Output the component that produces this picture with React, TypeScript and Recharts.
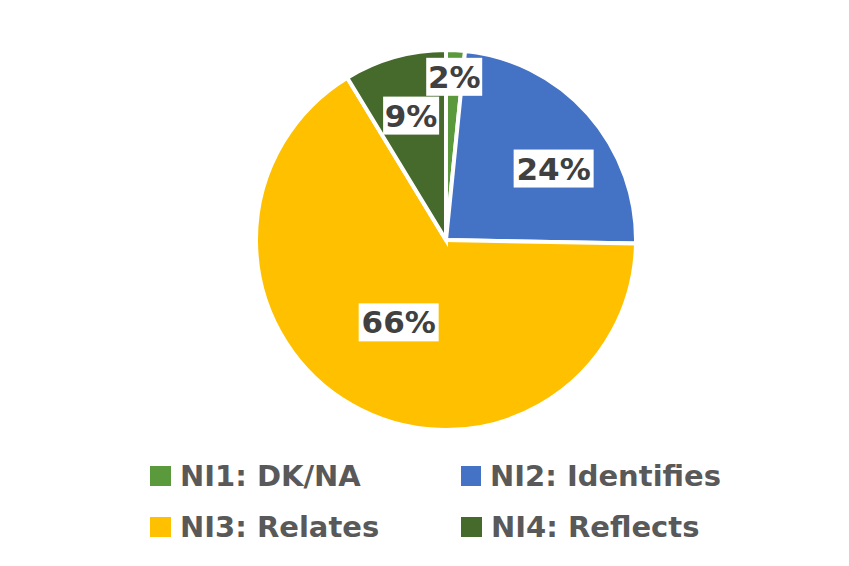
import React from "react";
import { PieChart, Pie, Cell, Legend } from "recharts";

const categories = ["NI1: DK/NA", "NI2: Identifies", "NI3: Relates", "NI4: Reflects"];
const values = [1.6, 23.7, 66.0, 8.7];
const colors = ["#5b9a3c", "#4472c4", "#ffc000", "#456a2b"];
// label placement style: radius factor and angle offset (deg) per slice
const labelRadius = [0.86, 0.68, 0.5, 0.68];
const labelAngleShift = [0, -8, 0, 0];

const data = categories.map((name, i) => ({ name, value: values[i] }));
const total = values.reduce((a, b) => a + b, 0);

const RAD = Math.PI / 180;
const FONT = "'DejaVu Sans', sans-serif";

const renderLabel = (props: any) => {
  const { cx, cy, midAngle, outerRadius, index, value } = props;
  const r = outerRadius * labelRadius[index];
  const a = (midAngle + labelAngleShift[index]) * RAD;
  const x = cx + r * Math.cos(-a);
  const y = cy + r * Math.sin(-a);
  const txt = `${Math.round((value / total) * 100)}%`;
  const w = txt.length === 2 ? 56 : 80;
  const h = 38;
  return (
    <g>
      <rect x={x - w / 2} y={y - h / 2} width={w} height={h} fill="#ffffff" />
      <text
        x={x}
        y={y}
        textAnchor="middle"
        dominantBaseline="central"
        fontFamily={FONT}
        fontWeight="bold"
        fontSize={31}
        fill="#404040"
      >
        {txt}
      </text>
    </g>
  );
};

const LegendContent = () => (
  <div
    style={{
      display: "grid",
      gridTemplateColumns: "311px 260px",
      rowGap: 0,
      marginLeft: 150,
      fontFamily: FONT,
      fontWeight: "bold",
      fontSize: 29,
      color: "#595959",
    }}
  >
    {categories.map((c, i) => (
      <div key={c} style={{ display: "flex", alignItems: "center", height: 51 }}>
        <span
          style={{
            display: "inline-block",
            width: 21,
            height: 20,
            background: colors[i],
            marginRight: 9,
          }}
        />
        <span style={{ whiteSpace: "nowrap" }}>{c}</span>
      </div>
    ))}
  </div>
);

export default function App() {
  return (
    <div style={{ position: "absolute", left: 0, top: 0, width: 849, height: 566, background: "#fff" }}>
      <PieChart width={849} height={566} margin={{ top: 0, right: 0, bottom: 0, left: 0 }}>
        <Pie
          data={data}
          dataKey="value"
          nameKey="name"
          cx={446}
          cy={240}
          outerRadius={190}
          startAngle={90}
          endAngle={-270}
          stroke="#ffffff"
          strokeWidth={4}
          label={renderLabel}
          labelLine={false}
          isAnimationActive={false}
        >
          {data.map((d, i) => (
            <Cell key={d.name} fill={colors[i]} />
          ))}
        </Pie>
        <Legend
          content={<LegendContent />}
          wrapperStyle={{ position: "absolute", left: 0, top: 450, width: 849 }}
        />
      </PieChart>
    </div>
  );
}
